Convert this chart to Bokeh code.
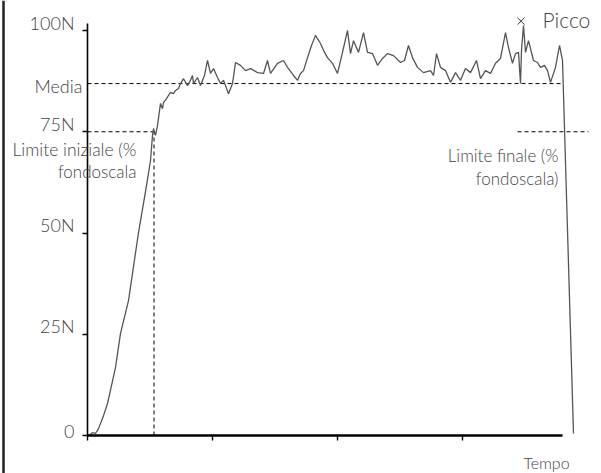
from bokeh.plotting import figure
from bokeh.models import Range1d, FixedTicker, Label, ColumnDataSource, LinearAxis, Span
from bokeh.embed import file_html
from bokeh.resources import INLINE

# Force curve (time in s, force in N)
time_s = [0.008, 0.04, 0.064, 0.088, 0.128, 0.16, 0.192, 0.224, 0.264, 0.328,
          0.408, 0.472, 0.504, 0.52, 0.528, 0.544, 0.56, 0.584, 0.6, 0.608,
          0.632, 0.664, 0.688, 0.704, 0.728, 0.744, 0.768, 0.8, 0.824, 0.84,
          0.848, 0.88, 0.904, 0.936, 0.96, 0.984, 1.008, 1.04, 1.064, 1.088,
          1.128, 1.16, 1.184, 1.224, 1.264, 1.304, 1.36, 1.408, 1.44, 1.464,
          1.52, 1.568, 1.6, 1.648, 1.68, 1.704, 1.728, 1.76, 1.792, 1.824,
          1.864, 1.888, 1.92, 1.96, 2.0, 2.04, 2.08, 2.104, 2.128, 2.168,
          2.208, 2.24, 2.28, 2.32, 2.36, 2.4, 2.448, 2.504, 2.536, 2.568,
          2.6, 2.64, 2.688, 2.744, 2.768, 2.792, 2.824, 2.864, 2.904, 2.944,
          2.984, 3.024, 3.064, 3.112, 3.144, 3.184, 3.224, 3.264, 3.304, 3.344,
          3.368, 3.4, 3.424, 3.448, 3.464, 3.472, 3.488, 3.504, 3.528, 3.568,
          3.6, 3.624, 3.656, 3.68, 3.704, 3.744, 3.776, 3.8, 3.888]
force_n = [0.0, 0.7, 0.5, 1.7, 4.9, 7.9, 12.3, 16.8, 25.2, 33.3,
           50.1, 61.7, 67.9, 74.1, 75.8, 74.1, 76.5, 82.0, 80.7, 82.2,
           83.2, 84.7, 84.4, 85.2, 85.7, 86.9, 88.1, 86.4, 87.7, 88.9,
           86.9, 88.4, 86.4, 88.9, 92.6, 89.4, 90.6, 88.4, 86.9, 87.7,
           84.4, 86.9, 92.1, 91.4, 90.1, 90.6, 89.6, 89.4, 92.6, 89.4,
           91.9, 92.6, 90.9, 88.9, 87.7, 89.4, 90.1, 93.3, 96.3, 98.8,
           96.8, 95.1, 93.3, 91.9, 89.4, 94.6, 100.0, 94.3, 97.5, 94.6,
           99.5, 94.6, 94.3, 91.4, 93.1, 94.3, 93.8, 92.1, 92.6, 96.3,
           93.3, 90.9, 89.6, 90.1, 88.9, 94.3, 90.9, 90.1, 87.2, 89.6,
           87.7, 90.6, 89.6, 92.6, 88.1, 90.1, 89.4, 91.9, 93.1, 99.5,
           95.8, 91.9, 94.3, 94.6, 86.9, 95.1, 101.2, 94.6, 97.5, 92.6,
           92.1, 90.9, 91.4, 90.1, 87.2, 90.9, 96.3, 92.6, 0.5]

y_ticks = [0, 25, 50, 75, 100]
y_tick_labels = ["0", "25N", "50N", "75N", "100N"]
x_ticks = [0, 1, 2, 3]

media_n = 86.9          # mean force
limit_n = 75.0          # limit (% full scale)
t_start = 0.532         # start limit time
t_end = 3.8             # end of x axis / mean line
limit_end_t0 = 3.44
limit_end_t1 = 4.008
picco_t = 3.468
picco_n = 102.3

FONT = "Lato Light"
TXT = "#444444"

p = figure(width=601, height=473, x_range=Range1d(-0.696, 4.112), y_range=Range1d(-9.383, 107.41),
           output_backend="svg", toolbar_location=None,
           x_axis_location=None, y_axis_location=None,
           min_border_left=0, min_border_right=0, min_border_top=0, min_border_bottom=0)
p.grid.visible = False
p.outline_line_color = None

# axes crossing at the origin
yax = LinearAxis(fixed_location=0, bounds=(0, 101.7),
                 ticker=FixedTicker(ticks=y_ticks, minor_ticks=[]))
yax.major_label_overrides = {t: "" for t in y_ticks}
yax.major_label_text_font_size = "1px"
yax.major_tick_out = 5
yax.major_tick_in = 0
yax.minor_tick_out = 0
yax.minor_tick_in = 0
yax.axis_line_width = 1.6
yax.major_tick_line_width = 1.4
yax.axis_line_color = "black"
p.add_layout(yax, "left")

xax = LinearAxis(fixed_location=0, bounds=(0, t_end),
                 ticker=FixedTicker(ticks=x_ticks, minor_ticks=[]))
xax.major_label_overrides = {t: "" for t in x_ticks}
xax.major_label_text_font_size = "1px"
xax.major_label_standoff = 0
xax.major_tick_out = 5
xax.major_tick_in = 0
xax.minor_tick_out = 0
xax.minor_tick_in = 0
xax.axis_line_width = 2.6
xax.major_tick_line_width = 1.4
xax.axis_line_color = "black"
p.add_layout(xax, "below")

# y tick labels, sitting on their tick marks
for tv, tl in zip(y_ticks, y_tick_labels):
    p.add_layout(Label(x=-0.104, y=tv, text=tl, text_align="right", text_baseline="bottom",
                       y_offset=-3, text_font=FONT, text_font_size="18px", text_color=TXT))

# left frame border of the original sheet
p.add_layout(Span(location=-0.672, dimension="height", line_color="#222222", line_width=2.5))

# dashed reference lines
seg = ColumnDataSource(dict(
    x0=[0, 0, t_start, limit_end_t0],
    y0=[media_n, limit_n, 0, limit_n],
    x1=[t_end, t_start, t_start, limit_end_t1],
    y1=[media_n, limit_n, limit_n, limit_n],
))
p.segment("x0", "y0", "x1", "y1", source=seg, line_color="black", line_width=1, line_dash="4 3")

# force curve
p.line(time_s, force_n, line_color="#555555", line_width=1.3)

# peak marker
p.scatter([picco_t], [picco_n], marker="x", size=10, line_color="#333333", line_width=1)

def lab(x, y, text, align="right", size="17px"):
    p.add_layout(Label(x=x, y=y, text=text, text_align=align, text_baseline="middle",
                       text_font=FONT, text_font_size=size, text_color=TXT))

lab(-0.040, 86.2, "Media", size="18px")
lab(0.392, 70.6, "Limite iniziale (%", size="17.5px")
lab(0.392, 65.2, "fondoscala")
lab(3.768, 69.1, "Limite finale (%")
lab(3.768, 63.5, "fondoscala)")
lab(3.64, 102.6, "Picco", align="left", size="21px")
lab(3.672, -6.7, "Tempo", align="center", size="16px")

open("out.html", "w").write(file_html(p, INLINE))
